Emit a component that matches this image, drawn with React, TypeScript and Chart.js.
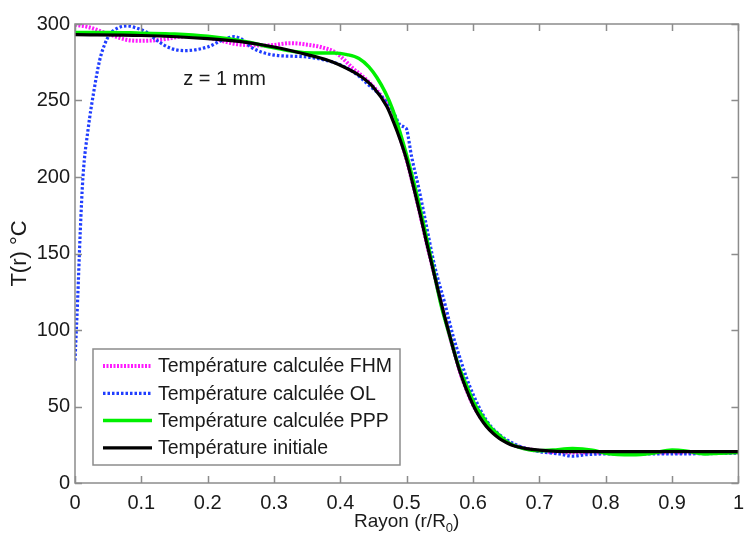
import React, { useEffect, useRef } from 'react';
import { Chart, registerables } from 'chart.js';

Chart.register(...registerables);

// ---- Data ----
const xTickLabels = ['0', '0.1', '0.2', '0.3', '0.4', '0.5', '0.6', '0.7', '0.8', '0.9', '1'];
const yTickLabels = ['0', '50', '100', '150', '200', '250', '300'];

const seriesNames = [
  'Température calculée FHM',
  'Température calculée OL',
  'Température calculée PPP',
  'Température initiale',
];

const fhmR = [0, 0.02, 0.05, 0.08, 0.1, 0.125, 0.17, 0.2, 0.25, 0.29, 0.325, 0.35, 0.37, 0.394, 0.419, 0.443, 0.468, 0.48, 0.49, 0.5, 0.51, 0.52, 0.53, 0.54, 0.55, 0.56, 0.57, 0.58, 0.59, 0.6, 0.62, 0.64, 0.66, 0.7, 0.75, 0.8, 1];
const fhmT = [299.5, 298, 293.5, 289.5, 289, 289.5, 292, 291, 286.5, 286, 287.5, 286.5, 285, 281, 271, 262, 249, 239, 226, 211, 194, 176, 157, 139, 121, 104, 88, 73, 61, 51, 38, 30, 25, 21, 20, 20, 20];

const olR = [0, 0.004, 0.008, 0.012, 0.02, 0.028, 0.037, 0.045, 0.052, 0.065, 0.079, 0.095, 0.1065, 0.126, 0.145, 0.166, 0.2, 0.22, 0.24, 0.255, 0.265, 0.3, 0.346, 0.37, 0.394, 0.419, 0.443, 0.468, 0.478, 0.49, 0.497, 0.5, 0.5075, 0.5175, 0.527, 0.542, 0.557, 0.57, 0.58, 0.59, 0.6, 0.62, 0.64, 0.66, 0.68, 0.7, 0.73, 0.75, 0.77, 0.8, 0.9, 1];
const olT = [80, 120, 165, 200, 232, 255, 276, 287, 293, 297.5, 298.7, 297, 295, 288.5, 284, 282.6, 285, 289, 291.7, 289, 285, 279.7, 278.6, 277, 274.3, 268.8, 260, 250, 244, 234, 232.5, 231, 213, 194, 174, 142, 118, 96, 82, 69, 58, 41, 31.5, 26, 22.5, 20.5, 19, 17.5, 18.5, 19, 19, 19.5];

const pppR = [0, 0.05, 0.1, 0.15, 0.2, 0.25, 0.3, 0.33, 0.36, 0.39, 0.41, 0.428, 0.443, 0.455, 0.468, 0.478, 0.49, 0.5, 0.515, 0.527, 0.54, 0.552, 0.565, 0.577, 0.59, 0.602, 0.615, 0.627, 0.64, 0.651, 0.676, 0.7, 0.72, 0.75, 0.78, 0.8, 0.84, 0.87, 0.9, 0.92, 0.95, 0.97, 1];
const pppT = [294.5, 294.5, 294, 293.5, 292, 289, 284.5, 282, 281, 281, 280, 277.5, 272, 265, 255, 245, 229, 214, 189, 166, 140, 116, 96, 78, 64, 52, 43, 36, 31, 27, 22.5, 21, 21.5, 22.5, 21.5, 19.5, 18.5, 19.5, 21.5, 21, 19, 19.5, 20];

const initR = [0, 0.1, 0.2, 0.25, 0.3, 0.35, 0.38, 0.4, 0.43, 0.45, 0.47, 0.48, 0.49, 0.5, 0.51, 0.52, 0.53, 0.54, 0.55, 0.56, 0.57, 0.58, 0.59, 0.6, 0.61, 0.62, 0.63, 0.64, 0.65, 0.66, 0.68, 0.7, 0.75, 0.8, 1.0];
const initT = [293, 292.5, 290.5, 288.5, 285, 280, 276.5, 273, 266, 258.5, 246, 236, 224.5, 211, 194, 176, 157, 139, 121, 104, 88, 73, 61, 51, 43, 37, 32.5, 29, 26.5, 24.5, 22.5, 21.5, 20.5, 20.5, 20.5];

const annotText = 'z = 1 mm';
const annotR = 0.163;
const annotT = 260;

const FONT = '"Liberation Sans", Arial, Helvetica, sans-serif';
const TEXT_COLOR = '#1a1a1a';
const AXIS_COLOR = '#8c8c8c';

const toPoints = (r: number[], t: number[]) => r.map((x, i) => ({ x, y: t[i] }));

const decorPlugin = {
  id: 'matlabDecor',
  afterDatasetsDraw(chart: any) {
    const { ctx, chartArea: ca, scales } = chart;
    const xs = scales.x;
    const ys = scales.y;
    ctx.save();

    // axes box
    ctx.strokeStyle = AXIS_COLOR;
    ctx.lineWidth = 1.5;
    ctx.strokeRect(ca.left, ca.top, ca.right - ca.left, ca.bottom - ca.top);

    // inward ticks on all four sides
    const tl = 7;
    ctx.beginPath();
    xTickLabels.forEach((lab) => {
      const px = Math.round(xs.getPixelForValue(parseFloat(lab))) + 0.5;
      ctx.moveTo(px, ca.bottom);
      ctx.lineTo(px, ca.bottom - tl);
      ctx.moveTo(px, ca.top);
      ctx.lineTo(px, ca.top + tl);
    });
    yTickLabels.forEach((lab) => {
      const py = Math.round(ys.getPixelForValue(parseFloat(lab))) + 0.5;
      ctx.moveTo(ca.left, py);
      ctx.lineTo(ca.left + tl, py);
      ctx.moveTo(ca.right, py);
      ctx.lineTo(ca.right - tl, py);
    });
    ctx.stroke();

    // annotation
    ctx.fillStyle = TEXT_COLOR;
    ctx.font = `20px ${FONT}`;
    ctx.textAlign = 'left';
    ctx.textBaseline = 'alphabetic';
    ctx.fillText(annotText, xs.getPixelForValue(annotR), ys.getPixelForValue(annotT));

    // legend
    const lx = ca.left + 18;
    const lw = 307;
    const lh = 116;
    const ly = ca.bottom - 18 - lh;
    ctx.fillStyle = '#ffffff';
    ctx.fillRect(lx, ly, lw, lh);
    ctx.strokeStyle = AXIS_COLOR;
    ctx.lineWidth = 1.5;
    ctx.strokeRect(lx, ly, lw, lh);
    chart.data.datasets.forEach((ds: any, i: number) => {
      const rowY = ly + 17 + i * 27.3;
      ctx.save();
      ctx.strokeStyle = ds.borderColor;
      ctx.lineWidth = ds.borderWidth;
      ctx.setLineDash(ds.borderDash || []);
      ctx.beginPath();
      ctx.moveTo(lx + 10, rowY);
      ctx.lineTo(lx + 59, rowY);
      ctx.stroke();
      ctx.restore();
      ctx.fillStyle = TEXT_COLOR;
      ctx.font = `19.5px ${FONT}`;
      ctx.textBaseline = 'middle';
      ctx.textAlign = 'left';
      ctx.fillText(ds.label, lx + 65, rowY + 1);
    });

    // y axis title
    ctx.fillStyle = TEXT_COLOR;
    ctx.font = `22px ${FONT}`;
    ctx.textBaseline = 'middle';
    ctx.textAlign = 'center';
    ctx.save();
    ctx.translate(20, (ca.top + ca.bottom) / 2);
    ctx.rotate(-Math.PI / 2);
    ctx.fillText('T(r) °C', 0, 0);
    ctx.restore();

    // x title with subscript
    const main = 'Rayon (r/R';
    const sub = '0';
    const close = ')';
    ctx.font = `19px ${FONT}`;
    const wMain = ctx.measureText(main).width;
    const wClose = ctx.measureText(close).width;
    ctx.font = `13px ${FONT}`;
    const wSub = ctx.measureText(sub).width;
    const total = wMain + wSub + wClose;
    const cx = (ca.left + ca.right) / 2;
    let x0 = cx - total / 2;
    const by = 527;
    ctx.textAlign = 'left';
    ctx.textBaseline = 'alphabetic';
    ctx.font = `19px ${FONT}`;
    ctx.fillText(main, x0, by);
    x0 += wMain;
    ctx.font = `13px ${FONT}`;
    ctx.fillText(sub, x0, by + 5);
    x0 += wSub;
    ctx.font = `19px ${FONT}`;
    ctx.fillText(close, x0, by);

    ctx.restore();
  },
};

export default function App() {
  const canvasRef = useRef<HTMLCanvasElement | null>(null);

  useEffect(() => {
    document.body.style.margin = '0';
    const canvas = canvasRef.current;
    if (!canvas) return;
    const chart = new Chart(canvas, {
      type: 'line',
      data: {
        datasets: [
          {
            label: seriesNames[0],
            data: toPoints(fhmR, fhmT),
            borderColor: '#ff1aff',
            borderWidth: 4,
            borderDash: [2, 1.5],
            order: 4,
          },
          {
            label: seriesNames[1],
            data: toPoints(olR, olT),
            borderColor: '#1f3dff',
            borderWidth: 3.2,
            borderDash: [2.5, 2],
            order: 3,
          },
          {
            label: seriesNames[2],
            data: toPoints(pppR, pppT),
            borderColor: '#00f000',
            borderWidth: 3.5,
            order: 2,
          },
          {
            label: seriesNames[3],
            data: toPoints(initR, initT),
            borderColor: '#000000',
            borderWidth: 3.2,
            order: 1,
          },
        ],
      },
      options: {
        animation: false,
        responsive: false,
        devicePixelRatio: 1,
        parsing: false,
        layout: { padding: { top: 24, right: 4, left: 0, bottom: 0 } },
        elements: {
          point: { radius: 0 },
          line: { cubicInterpolationMode: 'monotone', fill: false, borderCapStyle: 'butt' },
        },
        plugins: { legend: { display: false }, tooltip: { enabled: false } },
        scales: {
          x: {
            type: 'linear',
            min: 0,
            max: 1,
            grid: { display: false, drawTicks: false },
            border: { display: false },
            ticks: {
              stepSize: 0.1,
              autoSkip: false,
              maxRotation: 0,
              padding: 8,
              color: TEXT_COLOR,
              font: { family: FONT, size: 20 },
              callback: (_v: any, i: number) => xTickLabels[i],
            },
            afterFit: (s: any) => {
              s.height = 56;
            },
          },
          y: {
            type: 'linear',
            min: 0,
            max: 300,
            grid: { display: false, drawTicks: false },
            border: { display: false },
            ticks: {
              stepSize: 50,
              padding: 5,
              color: TEXT_COLOR,
              font: { family: FONT, size: 20 },
              callback: (_v: any, i: number) => yTickLabels[i],
            },
            afterFit: (s: any) => {
              s.width = 75;
            },
          },
        },
      },
      plugins: [decorPlugin],
    } as any);
    return () => chart.destroy();
  }, []);

  return (
    <div style={{ position: 'absolute', left: 0, top: 0, width: 752, height: 539, background: '#fff' }}>
      <canvas ref={canvasRef} width={752} height={539} style={{ width: 752, height: 539 }} />
    </div>
  );
}
